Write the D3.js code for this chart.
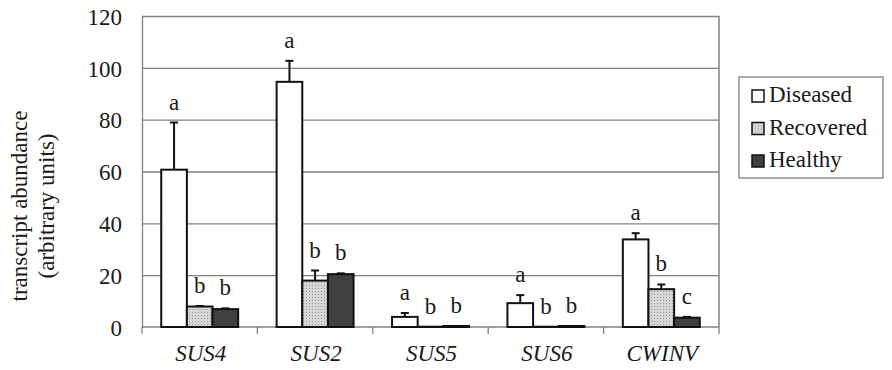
<!DOCTYPE html>
<html lang="en">
<head>
<meta charset="utf-8">
<style>
  body { margin: 0; background: white; }
  .grid line { stroke: #808080; stroke-width: 1.3; }
  .grid path { display: none; }
  .axis path, .axis line { stroke: #808080; stroke-width: 1.3; }
  .bar { stroke: #111; stroke-width: 2; }
  .err { stroke: #111; stroke-width: 2; }
</style>
</head>
<body>
<svg width="892" height="370"></svg>
<script src="https://d3js.org/d3.v7.min.js"></script>
<script>
// values
const genes = ["SUS4", "SUS2", "SUS5", "SUS6", "CWINV"]
const series = ["Diseased", "Recovered", "Healthy"]
const diseased  = [60.7, 94.6, 3.9, 9.2, 33.8]
const recovered = [7.9, 17.9, 0.1, 0.1, 14.6]
const healthy   = [6.9, 20.4, 0.4, 0.4, 3.6]
const diseasedErr  = [18.2, 8.1, 1.5, 3.1, 2.4]
const recoveredErr = [0.2, 3.9, 0, 0, 1.8]
const healthyErr   = [0.3, 0.3, 0, 0, 0.3]
const diseasedSig  = ["a", "a", "a", "a", "a"]
const recoveredSig = ["b", "b", "b", "b", "b"]
const healthySig   = ["b", "b", "b", "b", "c"]
const yTicks = [0, 20, 40, 60, 80, 100, 120]

const FONT = "'Liberation Serif', 'Times New Roman', serif"
const fills = { Diseased: "#ffffff", Recovered: "url(#dots)", Healthy: "#404040" }

const rows = []
genes.forEach(function (g, i) {
  rows.push({ gene: g, s: "Diseased", v: diseased[i], e: diseasedErr[i], sig: diseasedSig[i] })
  rows.push({ gene: g, s: "Recovered", v: recovered[i], e: recoveredErr[i], sig: recoveredSig[i] })
  rows.push({ gene: g, s: "Healthy", v: healthy[i], e: healthyErr[i], sig: healthySig[i] })
})

const margin = { top: 16, left: 142, right: 173, bottom: 43 }
const width = 892, height = 370
const svg = d3.select("svg")

// dotted fill for the Recovered bars
const pat = svg.append("defs").append("pattern")
  .attr("id", "dots").attr("width", 3).attr("height", 3)
  .attr("patternUnits", "userSpaceOnUse")
pat.append("rect").attr("width", 3).attr("height", 3).attr("fill", "#d6d6d6")
pat.append("rect").attr("width", 1).attr("height", 1).attr("fill", "#9a9a9a")

const x0 = d3.scaleBand().domain(genes)
  .range([margin.left, width - margin.right]).padding(0)
const x1 = d3.scaleBand().domain(series)
  .range([0, x0.bandwidth()]).paddingInner(0).paddingOuter(0.75)
const y = d3.scaleLinear().domain([0, 120])
  .range([height - margin.bottom, margin.top])

// gridlines
svg.append("g").attr("class", "grid")
  .attr("transform", "translate(" + margin.left + ",0)")
  .call(d3.axisLeft(y).tickValues(yTicks.slice(1)).tickSize(-(width - margin.left - margin.right)).tickFormat(""))

// plot frame right side
svg.append("line")
  .attr("x1", width - margin.right).attr("x2", width - margin.right)
  .attr("y1", y(120)).attr("y2", y(0))
  .attr("stroke", "#808080").attr("stroke-width", 1.5)

// y axis
const yAxis = svg.append("g").attr("class", "axis")
  .attr("transform", "translate(" + margin.left + ",0)")
  .call(d3.axisLeft(y).tickValues(yTicks).tickSize(0).tickPadding(20))
yAxis.selectAll("text")
  .attr("dy", "0.36em")
  .style("font-family", FONT).style("font-size", "23px").style("fill", "#1a1a1a")

// x axis with ticks between categories
const xAxis = svg.append("g").attr("class", "axis")
  .attr("transform", "translate(0," + y(0) + ")")
xAxis.append("line")
  .attr("x1", margin.left).attr("x2", width - margin.right)
xAxis.selectAll("line.tk").data(genes.concat(["end"])).join("line")
  .attr("class", "tk")
  .attr("x1", function (d, i) { return margin.left + i * x0.step() })
  .attr("x2", function (d, i) { return margin.left + i * x0.step() })
  .attr("y1", 0).attr("y2", 7)
xAxis.selectAll("text").data(genes).join("text")
  .attr("x", function (d) { return x0(d) + x0.bandwidth() / 2 + 1 })
  .attr("y", 34)
  .attr("text-anchor", "middle")
  .style("font-family", FONT).style("font-size", "23px").style("fill", "#1a1a1a")
  .style("font-style", "italic")
  .text(function (d) { return d })

// y axis title
const yt = svg.append("text")
  .attr("transform", "translate(27,206) rotate(-90)")
  .attr("text-anchor", "middle")
  .style("font-family", FONT).style("font-size", "23px").style("fill", "#1a1a1a")
yt.append("tspan").attr("x", 0).attr("y", 0).text("transcript abundance")
yt.append("tspan").attr("x", 0).attr("y", 27).text("(arbitrary units)")

// bars
svg.append("g").selectAll("rect").data(rows).join("rect")
  .attr("class", "bar")
  .attr("x", function (d) { return x0(d.gene) + x1(d.s) })
  .attr("width", x1.bandwidth())
  .attr("y", function (d) { return y(d.v) })
  .attr("height", function (d) { return y(0) - y(d.v) })
  .attr("fill", function (d) { return fills[d.s] })

// error bars
const errs = svg.append("g").selectAll("g").data(rows.filter(function (d) { return d.e > 0 })).join("g")
errs.append("line").attr("class", "err")
  .attr("x1", function (d) { return x0(d.gene) + x1(d.s) + x1.bandwidth() / 2 })
  .attr("x2", function (d) { return x0(d.gene) + x1(d.s) + x1.bandwidth() / 2 })
  .attr("y1", function (d) { return y(d.v) })
  .attr("y2", function (d) { return y(d.v + d.e) })
errs.append("line").attr("class", "err")
  .attr("x1", function (d) { return x0(d.gene) + x1(d.s) + x1.bandwidth() / 2 - 4 })
  .attr("x2", function (d) { return x0(d.gene) + x1(d.s) + x1.bandwidth() / 2 + 4 })
  .attr("y1", function (d) { return y(d.v + d.e) })
  .attr("y2", function (d) { return y(d.v + d.e) })

// significance letters
svg.append("g").selectAll("text").data(rows).join("text")
  .attr("x", function (d) { return x0(d.gene) + x1(d.s) + x1.bandwidth() / 2 })
  .attr("y", function (d) { return y(d.v + d.e) - 13 })
  .attr("text-anchor", "middle")
  .style("font-family", FONT).style("font-size", "23px").style("fill", "#1a1a1a")
  .text(function (d) { return d.sig })

// legend
const lg = svg.append("g").attr("transform", "translate(739,77)")
lg.append("rect").attr("width", 144).attr("height", 101)
  .attr("fill", "white").attr("stroke", "#808080").attr("stroke-width", 1.3)
const items = lg.selectAll("g").data(series).join("g")
  .attr("transform", function (d, i) { return "translate(13," + (25 + i * 32.5) + ")" })
items.append("rect").attr("x", 0).attr("y", -12).attr("width", 12).attr("height", 12)
  .attr("fill", function (d) { return fills[d] })
  .attr("stroke", "#111").attr("stroke-width", 1.5)
items.append("text").attr("x", 17).attr("y", 0)
  .style("font-family", FONT).style("font-size", "23px").style("fill", "#1a1a1a")
  .text(function (d) { return d })
</script>
</body>
</html>
